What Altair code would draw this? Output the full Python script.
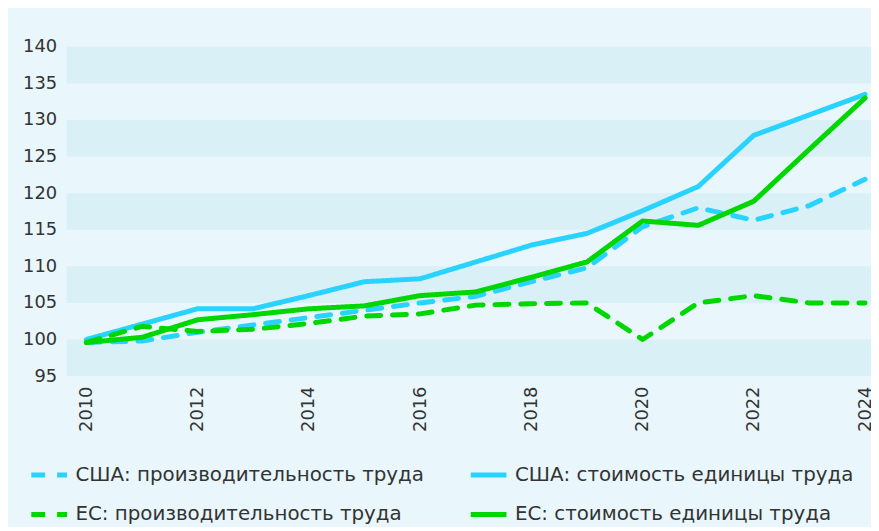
import altair as alt
import pandas as pd

years = list(range(2010, 2025))
us_prod = [99.6, 99.8, 101.0, 102.0, 103.0, 104.0, 105.0, 105.9, 107.9, 109.8, 115.4, 118.0, 116.3, 118.3, 121.9]
us_cost = [100.0, 102.1, 104.2, 104.2, 106.0, 107.9, 108.3, 110.6, 112.9, 114.5, 117.6, 120.9, 127.9, 130.7, 133.5]
eu_prod = [99.6, 101.8, 101.1, 101.4, 102.2, 103.2, 103.5, 104.7, 104.9, 105.0, 100.0, 105.0, 106.0, 105.0, 105.0]
eu_cost = [99.6, 100.3, 102.7, 103.4, 104.2, 104.6, 106.0, 106.5, 108.5, 110.6, 116.2, 115.6, 118.9, 126.0, 133.0]

series_names = [
    "США: производительность труда",
    "США: стоимость единицы труда",
    "ЕС: производительность труда",
    "ЕС: стоимость единицы труда",
]
series_values = [us_prod, us_cost, eu_prod, eu_cost]
series_colors = ["#29d3ff", "#29d3ff", "#00d600", "#00d600"]
series_dash = [[14, 12], [1, 0], [14, 12], [1, 0]]

band_lo = [95, 105, 115, 125, 135]
band_hi = [100, 110, 120, 130, 140]
x_ticks = [2010, 2012, 2014, 2016, 2018, 2020, 2022, 2024]
y_ticks = [95, 100, 105, 110, 115, 120, 125, 130, 135, 140]

rows = []
for name, vals in zip(series_names, series_values):
    for yr, v in zip(years, vals):
        rows.append({"year": yr, "value": v, "series": name})
df = pd.DataFrame(rows)
bands = pd.DataFrame({"lo": band_lo, "hi": band_hi})

FONT = "DejaVu Sans"
TXT = "#333333"

yscale = alt.Scale(domain=[95, 140], nice=False, zero=False)
xscale = alt.Scale(domain=[2009.643, 2024.107], nice=False, zero=False)

yaxis = alt.Axis(values=y_ticks, title=None)
xaxis = alt.Axis(values=x_ticks, format="d", labelAngle=270, title=None)

band_layer = alt.Chart(bands).mark_rect(color="#d9f0f6").encode(
    y=alt.Y("lo:Q", scale=yscale, axis=yaxis),
    y2="hi:Q",
)

leg = alt.Legend(title=None, orient="none", legendX=-38, legendY=411,
                 columns=2, columnPadding=36, rowPadding=9, labelLimit=0,
                 symbolType="stroke", symbolSize=1296, symbolStrokeWidth=5,
                 symbolDash=alt.ExprRef(expr="indexof(datum.value, 'производ') >= 0 ? [16, 4] : [1, 0]"),
                 labelFontSize=20, labelColor=TXT, labelFont=FONT,
                 labelOffset=6, direction="horizontal")

lines = alt.Chart(df).mark_line(strokeWidth=5, strokeCap="round", strokeJoin="round").encode(
    x=alt.X("year:Q", scale=xscale, axis=xaxis),
    y=alt.Y("value:Q", scale=yscale, axis=yaxis),
    color=alt.Color("series:N",
                    scale=alt.Scale(domain=series_names, range=series_colors),
                    sort=series_names, legend=leg),
    strokeDash=alt.StrokeDash("series:N",
                              scale=alt.Scale(domain=series_names, range=series_dash),
                              sort=series_names, legend=None),
)

chart = alt.layer(band_layer, lines).properties(
    width=811, height=332,
    autosize=alt.AutoSizeParams(type="none"),
    padding={"left": 59, "top": 37, "right": 0, "bottom": 150},
    background="#e9f7fc",
).configure_view(stroke=None).configure_axis(
    domain=False, ticks=False, grid=False, labelPadding=10,
    labelFlush=False, labelOverlap=False, labelBound=False,
    labelFontSize=18, labelColor=TXT, labelFont=FONT,
)

chart.save("out.html", embed_options={"renderer": "svg", "actions": False})
